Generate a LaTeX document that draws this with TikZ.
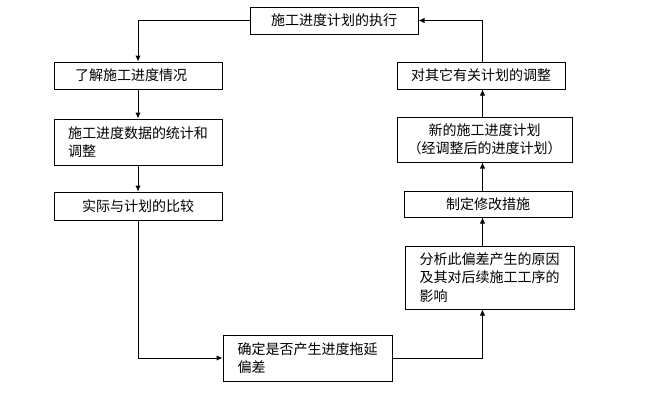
\documentclass[tikz,border=0pt]{standalone}
\usepackage{fontspec}
\usetikzlibrary{arrows.meta}
\newfontfamily\cjk{Noto Sans CJK SC}
\begin{document}
\begin{tikzpicture}[x=1pt,y=-1pt,line width=1pt,
        box/.style 2 args={draw,minimum width=#1,minimum height=#2,inner sep=2pt,
            align=left,font=\cjk\fontsize{14}{18.5}\selectfont},
        flow/.style={-{Latex[length=6pt,width=5.5pt]}}]
        \useasboundingbox (0,0) rectangle (657,402);
        % left column
        \node[box={168pt}{27pt}] (exec) at (334,20.5) {施工进度计划的执行};
        \node[box={168pt}{27pt}] (know) at (138,75.5) {了解施工进度情况\hspace{14pt}};
        \node[box={168pt}{46pt}] (stat) at (138,142) {施工进度数据的统计和\\调整};
        \node[box={168pt}{28pt}] (comp) at (138,206) {实际与计划的比较};
        \node[box={169pt}{46pt}] (judge) at (307.5,358) {确定是否产生进度拖延\\偏差};
        % right column
        \node[box={169pt}{63pt}] (anal) at (489.5,277.5) {分析此偏差产生的原因\\及其对后续施工工序的\\影响};
        \node[box={168pt}{26pt}] (meas) at (488,204) {制定修改措施};
        \node[box={175pt}{45pt},align=center] (newp) at (484.5,139.5) {新的施工进度计划\\（经调整后的进度计划）};
        \node[box={168pt}{27pt}] (adj) at (481,75.5) {对其它有关计划的调整};
        \coordinate (rx) at (482.5,0);
        % connectors
        \draw[flow] (exec.west) -| (know.north);
        \draw[flow] (know) -- (stat);
        \draw[flow] (stat) -- (comp);
        \draw[flow] (comp.south) |- (judge.west);
        \draw[flow] (judge.east) -| (anal.south -| rx);
        \draw[flow] (anal.north -| rx) -- (meas.south -| rx);
        \draw[flow] (meas.north -| rx) -- (newp.south -| rx);
        \draw[flow] (newp.north -| rx) -- (adj.south -| rx);
        \draw[flow] (adj.north -| rx) |- (exec.east);
    \end{tikzpicture}
\end{document}
